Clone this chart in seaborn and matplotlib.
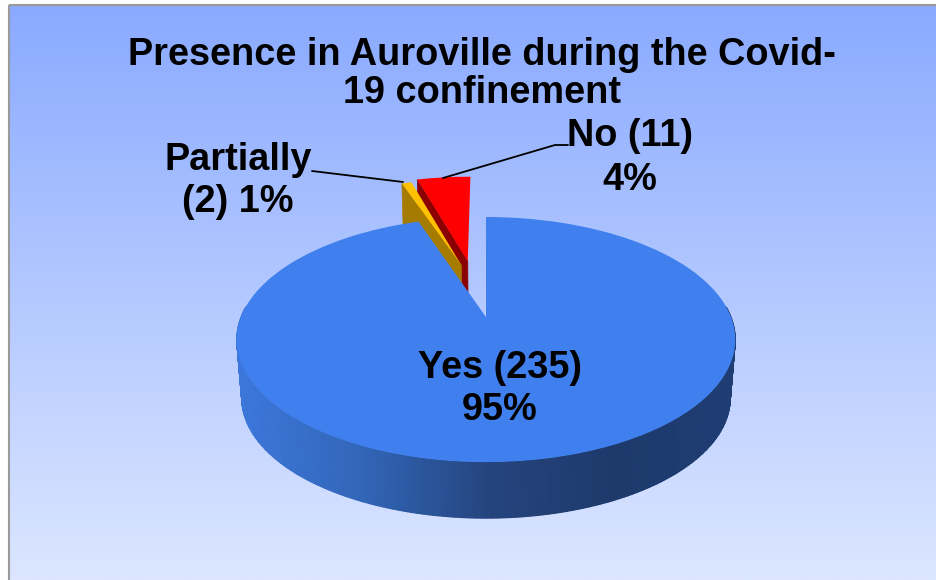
import numpy as np
import matplotlib
matplotlib.use("Agg")
import matplotlib.pyplot as plt
import matplotlib.transforms as mtransforms
from matplotlib.patches import Rectangle
import seaborn as sns

# Data
CATEGORIES = ["Yes", "Partially", "No"]
COUNTS = [235, 2, 11]
EXPLODE = [0, 0.5, 0.5]
TITLE = "Presence in Auroville during the Covid-\n19 confinement"

# Slice colours
TOP_COLORS = ["#3f80ee", "#ffc000", "#ff0000"]
FACE_COLORS = [None, "#a57c00", "#8b0000"]

# Fake 3D geometry, in pixels
CX, CY = 486, 317
SCALE_X, SCALE_Y = 245, 118.4
PERSP = 0.184
DEPTH = 59
SHRINK = 0.98


class PiePerspective(mtransforms.Transform):
    input_dims = 2
    output_dims = 2

    def transform_non_affine(self, values):
        values = np.asarray(values, dtype=float)
        w = 1 + PERSP * values[:, 1]
        return np.column_stack([CX + SCALE_X * values[:, 0] / w,
                                CY - SCALE_Y * values[:, 1] / w])


persp = PiePerspective()


def top_pt(x, y):
    return persp.transform_non_affine(np.column_stack([x, y]))


def bottom_pt(x, y):
    p = top_pt(x, y)
    return np.column_stack([CX + SHRINK * (p[:, 0] - CX),
                            CY + DEPTH + SHRINK * (p[:, 1] - CY)])


sns.set_theme(style="white")
plt.rcParams["font.family"] = ["Liberation Sans", "DejaVu Sans"]

fig = plt.figure(figsize=(9.36, 5.8), dpi=100)
ax = fig.add_axes([0, 0, 1, 1])

wedges, _ = ax.pie(COUNTS, explode=EXPLODE, colors=TOP_COLORS, startangle=90,
                   counterclock=False, radius=1)

ax.set_aspect("auto")
ax.set_axis_off()

# background gradient
top_rgb = np.array([138, 170, 255]) / 255
bot_rgb = np.array([220, 230, 255]) / 255
grad = np.linspace(0, 1, 256)[:, None, None] * (bot_rgb - top_rgb) + top_rgb
ax.imshow(grad, extent=(9, 936, 580, 5), aspect="auto", zorder=0)
ax.set_xlim(0, 936)
ax.set_ylim(580, 0)
ax.add_patch(Rectangle((9, 5), 940, 590, fill=False, edgecolor="#9a9a9a", lw=1.5, zorder=1))

# small nudges so the exploded slices land where they do in the original
cx0, cy0 = wedges[1].center
wedges[1].set_center((cx0 + 0.04, cy0))
cx0, cy0 = wedges[2].center
wedges[2].set_center((cx0 - 0.012, cy0 + 0.02))

# slices: the small ones sit behind the big one
order = {1: 3, 2: 2, 0: 6}
for i, w in enumerate(wedges):
    w.set_transform(persp + ax.transData)
    w.set_edgecolor("none")
    w.set_zorder(order[i] + 0.5)
    if FACE_COLORS[i]:
        # cut face on the left edge of the exploded slices
        cx, cy = w.center
        t = np.radians(w.theta2)
        xs = np.array([cx, cx + np.cos(t)])
        ys = np.array([cy, cy + np.sin(t)])
        poly = np.vstack([top_pt(xs, ys), bottom_pt(xs, ys)[::-1]])
        ax.fill(poly[:, 0], poly[:, 1], color=FACE_COLORS[i], lw=0.5, zorder=order[i])

# rim of the big slice, darkens left to right
rim_cmap = sns.blend_palette(["#3d78dc", "#3266b8", "#25457f", "#1e3a6c", "#1f3d74"], as_cmap=True)
angles = np.radians(np.linspace(-185, 5, 300))
rim_top = top_pt(np.cos(angles), np.sin(angles))
rim_bot = bottom_pt(np.cos(angles), np.sin(angles))
rim_x = np.vstack([rim_top[:, 0], rim_bot[:, 0]])
rim_y = np.vstack([rim_top[:, 1], rim_bot[:, 1]])
ax.pcolormesh(rim_x, rim_y, rim_x, cmap=rim_cmap, vmin=237, vmax=738,
              shading="gouraud", zorder=5)

# labels
total = sum(COUNTS)
pct = [round(100 * c / total) for c in COUNTS]
LABEL_FONT = dict(fontsize=27.3, fontweight="bold", color="black", ha="center",
                  va="center", zorder=10, linespacing=1.25)
ax.text(482, 74, TITLE, **{**LABEL_FONT, "linespacing": 1.07})
ax.text(500, 389, f"{CATEGORIES[0]} ({COUNTS[0]})\n{pct[0]}%", **LABEL_FONT)
ax.text(238, 181, f"{CATEGORIES[1]}\n({COUNTS[1]}) {pct[1]}%", **LABEL_FONT)
ax.text(630, 158, f"{CATEGORIES[2]} ({COUNTS[2]})\n{pct[2]}%", **LABEL_FONT)

# leader lines
ax.plot([312, 403], [171, 182], color="black", lw=1.3, zorder=9)
ax.plot([443, 555, 568], [178, 145, 145], color="black", lw=1.3, zorder=9)

fig.savefig("out.png", dpi=100)
